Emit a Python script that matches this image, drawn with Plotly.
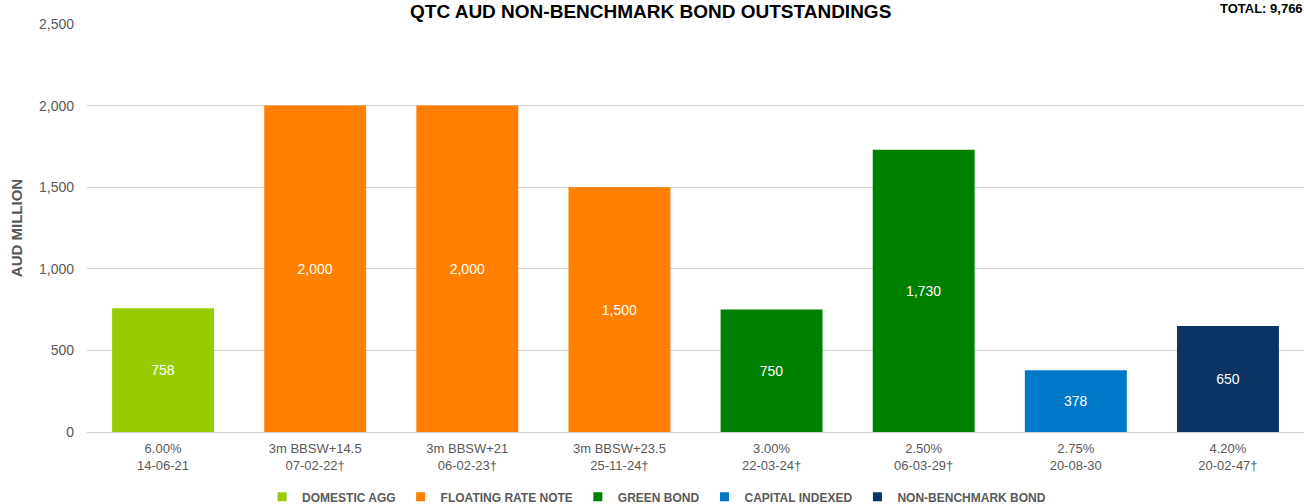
import plotly.graph_objects as go

categories = ["6.00%<br>14-06-21", "3m BBSW+14.5<br>07-02-22†", "3m BBSW+21<br>06-02-23†",
              "3m BBSW+23.5<br>25-11-24†", "3.00%<br>22-03-24†", "2.50%<br>06-03-29†",
              "2.75%<br>20-08-30", "4.20%<br>20-02-47†"]
values = [758, 2000, 2000, 1500, 750, 1730, 378, 650]
series_names = ["DOMESTIC AGG", "FLOATING RATE NOTE", "GREEN BOND", "CAPITAL INDEXED", "NON-BENCHMARK BOND"]
series_index = [0, 1, 1, 1, 2, 2, 3, 4]
colors = ["#99CC00", "#FF8000", "#008000", "#0078C8", "#0B3363"]
y_ticks = [0, 500, 1000, 1500, 2000, 2500]
total = sum(values)

FONT = "Liberation Sans Narrow, Arial Narrow, Liberation Sans, Arial, sans-serif"
GREY = "#595959"

fig = go.Figure()
for s, name in enumerate(series_names):
    xs = [c for c, i in zip(categories, series_index) if i == s]
    ys = [v for v, i in zip(values, series_index) if i == s]
    fig.add_trace(go.Bar(
        x=xs, y=ys, name=name, marker=dict(color=colors[s], line=dict(width=0)),
        text=[f"{v:,}" for v in ys], textposition="inside", insidetextanchor="middle",
        textfont=dict(color="white", size=14, family=FONT), textangle=0,
        showlegend=False,
    ))
# legend entries drawn as small squares
for s, name in enumerate(series_names):
    fig.add_trace(go.Scatter(
        x=[None], y=[None], mode="markers", name=name,
        marker=dict(symbol="square", size=9, color=colors[s]),
        showlegend=True,
    ))

fig.update_layout(
    width=1304, height=504,
    margin=dict(l=87, r=0, t=24, b=72, autoexpand=False),
    paper_bgcolor="white", plot_bgcolor="white",
    barmode="relative", bargap=0.33,
    font=dict(family=FONT, color=GREY, size=14),
    showlegend=True,
    legend=dict(orientation="h", x=0.468, xanchor="center", y=-0.159, yanchor="middle",
                font=dict(family=FONT, size=12, color=GREY, weight="bold"),
                itemwidth=30, tracegroupgap=0, itemclick=False),
)
fig.update_xaxes(categoryorder="array", categoryarray=categories,
                 showgrid=False, showline=False, ticks="", ticklabelstandoff=7,
                 tickfont=dict(family=FONT, size=13, color=GREY))
fig.update_yaxes(range=[0, 2500], tickvals=y_ticks, tickformat=",",
                 showgrid=True, gridcolor="#D0D0D0", gridwidth=1,
                 zeroline=True, zerolinecolor="#D0D0D0", zerolinewidth=1,
                 ticks="", ticklabelstandoff=12,
                 tickfont=dict(family=FONT, size=14, color=GREY),
                 title=dict(text="AUD MILLION", standoff=12,
                            font=dict(family=FONT, size=15, color=GREY, weight="bold")))

fig.add_annotation(text="QTC AUD NON-BENCHMARK BOND OUTSTANDINGS", xref="paper", yref="paper",
                   x=0.4634, y=1.0588, xanchor="center", yanchor="top", showarrow=False, borderpad=0,
                   font=dict(family="Liberation Sans, Arial, sans-serif", size=19, color="black", weight="bold"))
fig.add_annotation(text=f"TOTAL: {total:,}", xref="paper", yref="paper",
                   x=1.0, y=1.0588, xanchor="right", yanchor="top", showarrow=False, borderpad=0,
                   font=dict(family="Liberation Sans, Arial, sans-serif", size=13, color="black", weight="bold"))

fig.write_html("out.html", config={"displayModeBar": False},
               post_script="document.body.style.margin='0';document.body.style.overflow='hidden';")
